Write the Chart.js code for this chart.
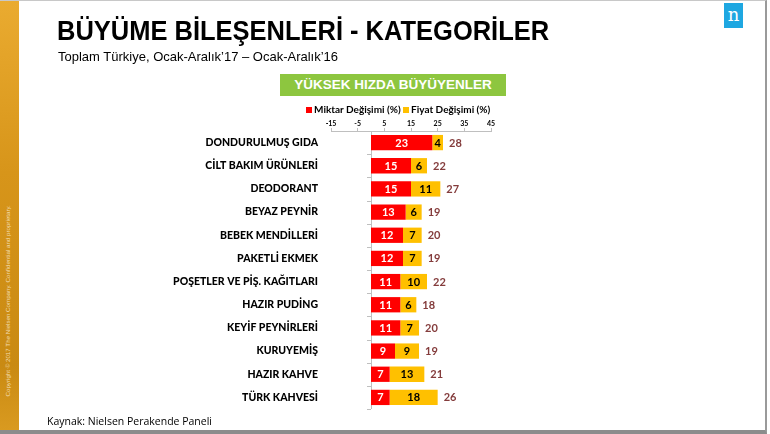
<!DOCTYPE html>
<html>
<head>
<meta charset="utf-8">
<script src="https://cdn.jsdelivr.net/npm/chart.js@4"></script>
<style>
  html, body { margin: 0; padding: 0; background: #fff; }
  #page { position: relative; width: 770px; height: 434px; overflow: hidden; background: #fff; }
  #myChart { position: absolute; left: 0; top: 0; }
  .strip { position: absolute; left: 0; top: 0; width: 19px; height: 430px;
    background: linear-gradient(180deg, #eaab30 0%, #d7951a 40%, #c98a12 85%, #d99a20 100%); }
  .copy { position: absolute; left: -88px; top: 298px; width: 190px; transform: rotate(-90deg);
    font: 6.2px "Liberation Sans", Arial, sans-serif; color: #f3ddb0; white-space: nowrap; text-align: center; }
  .title { position: absolute; left: 57px; top: 15px; font: bold 28px "Liberation Sans", Arial, sans-serif; color: #000;
    transform: scaleX(0.91); transform-origin: left top; white-space: nowrap; }
  .subtitle { position: absolute; left: 58px; top: 49px; font: 13px "Liberation Sans", Arial, sans-serif; color: #000; }
  .logo { position: absolute; left: 724px; top: 3px; width: 19px; height: 25px; background: #1ea7e1;
    color: #fff; font: 18px "DejaVu Serif", serif; text-align: center; line-height: 24px; }
  .header { position: absolute; left: 280px; top: 74px; width: 226px; height: 22px; background: #8dc63f;
    color: #fff; font: bold 13.5px "Liberation Sans", Arial, sans-serif; text-align: center; line-height: 22px; }
  .legend { position: absolute; left: 306px; top: 103px; font: bold 10px Lato, sans-serif; color: #000; white-space: nowrap; }
  .legend i { display: inline-block; width: 6px; height: 6px; margin-right: 2px; }
  .source { position: absolute; left: 47px; top: 414px; font: 10.5px "Open Sans", sans-serif; color: #000; }
  .frame { position: absolute; left: 0; top: 0; width: 765px; height: 429px; border-top: 1px solid #c8c8c8; border-right: 2px solid #9a9a9a; border-bottom: 4px solid #8c8c8c; pointer-events: none; }
</style>
</head>
<body>
<div id="page">
  <canvas id="myChart" width="770" height="434"></canvas>
  <div class="strip"></div>
  <div class="copy">Copyright © 2017 The Nielsen Company. Confidential and proprietary.</div>
  <div class="title">BÜYÜME BİLEŞENLERİ - KATEGORİLER</div>
  <div class="subtitle">Toplam Türkiye, Ocak-Aralık’17 – Ocak-Aralık’16</div>
  <div class="logo">n</div>
  <div class="header">YÜKSEK HIZDA BÜYÜYENLER</div>
  <div class="legend"><i style="background:#ff0000"></i>Miktar Değişimi (%) <i style="background:#ffc000"></i>Fiyat Değişimi (%)</div>
  <div class="source">Kaynak: Nielsen Perakende Paneli</div>
  <div class="frame"></div>
</div>
<script>
const categories = ['DONDURULMUŞ GIDA', 'CİLT BAKIM ÜRÜNLERİ', 'DEODORANT', 'BEYAZ PEYNİR', 'BEBEK MENDİLLERİ',
    'PAKETLİ EKMEK', 'POŞETLER VE PİŞ. KAĞITLARI', 'HAZIR PUDİNG', 'KEYİF PEYNİRLERİ', 'KURUYEMİŞ',
    'HAZIR KAHVE', 'TÜRK KAHVESİ'];
const miktar = [23, 15, 15, 13, 12, 12, 11, 11, 11, 9, 7, 7];
const fiyat = [4, 6, 11, 6, 7, 7, 10, 6, 7, 9, 13, 18];
const toplam = [28, 22, 27, 19, 20, 19, 22, 18, 20, 19, 21, 26];
const xTicks = [-15, -5, 5, 15, 25, 35, 45];

const labelFont = 'bold 11px Lato, sans-serif';

// zero line, bar labels and totals
const barLabels = {
    id: 'barLabels',
    beforeDatasetsDraw(chart) {
        const {ctx, chartArea, scales} = chart;
        const x0 = scales.x.getPixelForValue(0);
        ctx.save();
        ctx.strokeStyle = '#bfbfbf';
        ctx.lineWidth = 1;
        ctx.beginPath();
        ctx.moveTo(x0 + 0.5, chartArea.top);
        ctx.lineTo(x0 + 0.5, chartArea.bottom);
        const step = (chartArea.bottom - chartArea.top) / categories.length;
        for (let i = 0; i <= categories.length; i++) {
            const yy = Math.round(chartArea.top + i * step) + 0.5;
            ctx.moveTo(x0 - 4, yy);
            ctx.lineTo(x0, yy);
        }
        ctx.stroke();
        ctx.restore();
    },
    afterDatasetsDraw(chart) {
        const {ctx, scales} = chart;
        ctx.save();
        ctx.font = labelFont;
        ctx.textBaseline = 'middle';
        chart.data.datasets.forEach((ds, di) => {
            const meta = chart.getDatasetMeta(di);
            meta.data.forEach((el, i) => {
                const p = el.getCenterPoint();
                ctx.fillStyle = di === 0 ? '#ffffff' : '#000000';
                ctx.textAlign = 'center';
                ctx.fillText(String(ds.data[i]), p.x, p.y + 0.5);
            });
        });
        const meta = chart.getDatasetMeta(1);
        meta.data.forEach((el, i) => {
            const xe = scales.x.getPixelForValue(miktar[i] + fiyat[i]);
            ctx.fillStyle = '#843c3c';
            ctx.textAlign = 'left';
            ctx.fillText(String(toplam[i]), xe + 6, el.y + 0.5);
        });
        ctx.restore();
    }
};

const ctx = document.getElementById('myChart').getContext('2d');
const myChart = new Chart(ctx, {
    type: 'bar',
    data: {
        labels: categories,
        datasets: [{
            label: 'Miktar Değişimi (%)',
            data: miktar,
            backgroundColor: '#ff0000',
            categoryPercentage: 0.66,
            barPercentage: 1
        }, {
            label: 'Fiyat Değişimi (%)',
            data: fiyat,
            backgroundColor: '#ffc000',
            categoryPercentage: 0.66,
            barPercentage: 1
        }]
    },
    options: {
        indexAxis: 'y',
        responsive: false,
        animation: false,
        layout: { padding: { top: 100, bottom: 25, left: 0, right: 279 } },
        plugins: {
            legend: { display: false },
            tooltip: { enabled: false }
        },
        scales: {
            x: {
                position: 'top',
                stacked: true,
                min: -15,
                max: 45,
                afterBuildTicks: s => { s.ticks = xTicks.map(v => ({ value: v })); },
                afterFit: s => { s.height = 31; },
                grid: { drawOnChartArea: false, drawTicks: true, tickLength: 3, color: '#bfbfbf' },
                border: { color: '#bfbfbf' },
                ticks: { font: { family: 'Lato', size: 7, weight: 'bold' }, color: '#000', padding: 0, maxRotation: 0 }
            },
            y: {
                stacked: true,
                afterFit: s => { s.width = 331; },
                grid: { display: false, drawTicks: false },
                border: { display: false },
                ticks: { font: { family: 'Lato', size: 10.5, weight: 900 }, color: '#000', padding: 13 }
            }
        }
    },
    plugins: [barLabels]
});
</script>
</body>
</html>
